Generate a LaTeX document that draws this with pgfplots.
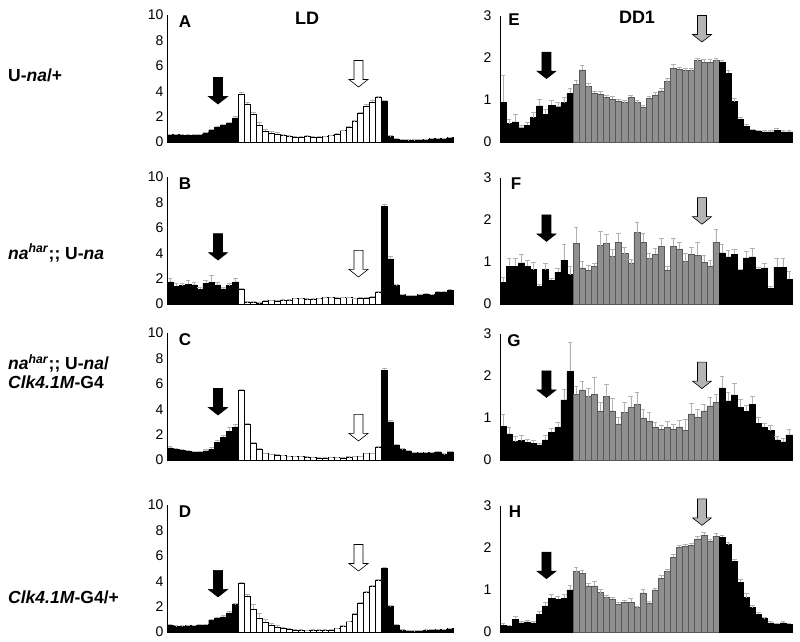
\documentclass[border=0pt]{standalone}
\usepackage{fontspec}
\setmainfont{Liberation Sans}
\usepackage{pgfplots}
\usepackage{pgfplotstable}
\pgfplotsset{compat=1.18}

% LD panels A-D: value and s.e.m. per half-hour bin
\pgfplotstableread{
x  A    eA   B    eB   C    eC   D    eD
1  0.60 0.05 1.75 0.30 0.95 0.15 0.55 0.05
2  0.60 0.05 1.40 0.20 0.85 0.10 0.45 0.05
3  0.55 0.05 1.45 0.20 0.75 0.08 0.45 0.05
4  0.55 0.05 1.55 0.30 0.70 0.08 0.50 0.05
5  0.55 0.05 1.50 0.25 0.60 0.08 0.50 0.05
6  0.60 0.05 1.15 0.20 0.62 0.08 0.55 0.05
7  0.75 0.05 1.65 0.25 0.72 0.10 0.60 0.05
8  0.95 0.08 1.70 0.55 0.85 0.12 0.95 0.08
9  1.20 0.08 1.50 0.20 1.40 0.12 1.10 0.08
10 1.30 0.08 1.20 0.15 1.80 0.15 1.20 0.10
11 1.50 0.08 1.45 0.20 2.25 0.35 1.50 0.10
12 1.90 0.10 1.75 0.25 2.60 0.25 2.15 0.10
13 3.80 0.10 1.20 0.08 5.50 0.10 3.85 0.10
14 3.00 0.12 0.15 0.03 2.80 0.10 2.85 0.15
15 2.20 0.15 0.15 0.03 1.30 0.08 1.80 0.35
16 1.35 0.20 0.08 0.03 0.85 0.08 1.10 0.35
17 0.85 0.15 0.25 0.05 0.50 0.05 0.75 0.25
18 0.72 0.12 0.28 0.05 0.42 0.05 0.53 0.15
19 0.65 0.10 0.25 0.05 0.40 0.05 0.40 0.10
20 0.50 0.08 0.30 0.05 0.35 0.05 0.32 0.08
21 0.45 0.05 0.30 0.05 0.30 0.03 0.24 0.05
22 0.40 0.05 0.42 0.05 0.26 0.03 0.18 0.05
23 0.40 0.05 0.42 0.05 0.26 0.03 0.15 0.03
24 0.45 0.05 0.38 0.05 0.24 0.03 0.13 0.03
25 0.40 0.05 0.38 0.05 0.22 0.03 0.15 0.03
26 0.40 0.05 0.42 0.05 0.18 0.03 0.15 0.03
27 0.42 0.05 0.52 0.05 0.18 0.03 0.15 0.03
28 0.50 0.05 0.52 0.05 0.22 0.03 0.18 0.03
29 0.65 0.05 0.47 0.05 0.20 0.03 0.26 0.03
30 0.90 0.05 0.50 0.05 0.18 0.03 0.45 0.05
31 1.15 0.08 0.52 0.05 0.24 0.03 0.82 0.05
32 1.60 0.08 0.42 0.05 0.30 0.03 1.38 0.08
33 2.25 0.10 0.47 0.05 0.30 0.03 2.25 0.10
34 2.85 0.10 0.47 0.05 0.50 0.05 3.10 0.10
35 3.15 0.10 0.55 0.05 0.52 0.05 3.57 0.10
36 3.50 0.10 0.90 0.08 1.00 0.05 4.05 0.10
37 3.20 0.10 7.70 0.15 7.05 0.20 5.00 0.10
38 0.45 0.05 3.55 0.20 3.00 0.12 2.00 0.10
39 0.25 0.03 1.45 0.10 1.20 0.08 0.55 0.05
40 0.18 0.03 0.75 0.05 0.85 0.05 0.15 0.03
41 0.15 0.03 0.65 0.05 0.70 0.05 0.10 0.03
42 0.15 0.03 0.65 0.05 0.60 0.05 0.08 0.03
43 0.18 0.03 0.75 0.05 0.60 0.05 0.10 0.03
44 0.20 0.03 0.80 0.05 0.60 0.05 0.15 0.03
45 0.28 0.03 0.75 0.05 0.60 0.05 0.18 0.03
46 0.28 0.03 0.95 0.05 0.65 0.05 0.20 0.03
47 0.28 0.03 0.95 0.05 0.45 0.05 0.22 0.03
48 0.35 0.03 1.10 0.08 0.65 0.08 0.28 0.03
}\ldtable

% DD1 panels E-H
\pgfplotstableread{
x  E    eE   F    eF   G    eG   H    eH
1  0.95 0.63 0.52 0.12 0.80 0.30 0.16 0.05
2  0.44 0.10 0.90 0.20 0.62 0.15 0.14 0.03
3  0.48 0.17 0.90 0.18 0.44 0.13 0.30 0.07
4  0.34 0.05 0.98 0.20 0.46 0.12 0.22 0.03
5  0.40 0.07 0.90 0.15 0.42 0.07 0.24 0.04
6  0.58 0.12 0.82 0.17 0.40 0.07 0.22 0.03
7  0.86 0.15 0.42 0.05 0.36 0.05 0.42 0.08
8  0.66 0.12 0.82 0.15 0.48 0.10 0.62 0.10
9  0.87 0.12 0.56 0.05 0.66 0.10 0.80 0.10
10 0.84 0.10 0.75 0.10 0.78 0.12 0.78 0.08
11 0.94 0.12 1.04 0.38 1.43 0.25 0.80 0.10
12 1.16 0.12 0.70 0.20 2.11 0.70 1.00 0.12
13 1.38 0.10 1.45 0.37 1.56 0.20 1.44 0.10
14 1.72 0.10 0.86 0.15 1.67 0.20 1.40 0.06
15 1.32 0.08 0.80 0.12 1.51 0.20 1.10 0.07
16 1.16 0.06 0.90 0.08 1.56 0.40 1.10 0.10
17 1.14 0.06 1.39 0.35 1.17 0.20 0.94 0.07
18 1.06 0.05 1.44 0.23 1.51 0.30 0.82 0.05
19 1.02 0.06 1.13 0.18 1.17 0.30 0.78 0.05
20 0.98 0.05 1.47 0.22 0.86 0.17 0.66 0.05
21 0.94 0.05 1.20 0.15 1.13 0.25 0.71 0.05
22 1.06 0.06 0.96 0.10 1.26 0.25 0.71 0.10
23 0.94 0.06 1.70 0.25 1.32 0.30 0.58 0.03
24 0.83 0.05 1.47 0.22 1.00 0.20 0.93 0.08
25 1.04 0.06 1.08 0.13 0.93 0.20 0.68 0.05
26 1.12 0.06 1.18 0.15 0.79 0.10 1.00 0.05
27 1.22 0.06 1.37 0.20 0.73 0.10 1.28 0.06
28 1.44 0.08 0.81 0.10 0.78 0.15 1.44 0.06
29 1.76 0.10 1.37 0.20 0.73 0.13 1.78 0.08
30 1.73 0.06 1.31 0.17 0.79 0.15 2.02 0.05
31 1.70 0.06 1.01 0.20 0.71 0.25 2.04 0.06
32 1.70 0.06 1.18 0.17 1.10 0.25 2.06 0.05
33 1.94 0.05 1.16 0.30 1.02 0.20 2.22 0.05
34 1.90 0.06 0.99 0.18 1.17 0.15 2.30 0.07
35 1.90 0.06 0.90 0.15 1.29 0.20 2.16 0.06
36 1.94 0.05 1.47 0.30 1.38 0.18 2.28 0.06
37 1.90 0.05 1.22 0.20 1.72 0.28 2.26 0.05
38 1.64 0.07 1.12 0.15 1.41 0.20 2.08 0.06
39 0.96 0.08 1.19 0.12 1.55 0.27 1.68 0.05
40 0.54 0.06 0.81 0.02 1.25 0.20 1.18 0.08
41 0.38 0.04 1.10 0.15 1.16 0.15 0.82 0.10
42 0.28 0.03 1.12 0.20 1.33 0.20 0.58 0.05
43 0.26 0.03 0.83 0.05 0.88 0.15 0.42 0.04
44 0.24 0.03 0.86 0.10 0.78 0.10 0.32 0.04
45 0.24 0.03 0.37 0.05 0.70 0.13 0.22 0.04
46 0.28 0.04 0.88 0.20 0.48 0.08 0.18 0.03
47 0.24 0.04 0.88 0.20 0.43 0.08 0.22 0.03
48 0.24 0.03 0.59 0.20 0.60 0.13 0.18 0.03
}\ddtable

\definecolor{barg}{HTML}{8F8F8F}
\definecolor{arrg}{HTML}{B4B4B4}

\pgfplotsset{
  panel/.style={
    scale only axis, anchor=south west, clip=false,
    xmin=0.5, xmax=48.5, ymin=0,
    axis x line=none, axis y line*=left,
    xtick=\empty, ytick style={draw=none},
    y axis line style={line width=0.9pt},
    tick label style={font=\fontsize{14}{14}\selectfont},
    /pgf/number format/assume math mode=true,
    every axis plot/.append style={ybar, bar width=1, bar shift=0pt, line width=0.4pt,
      error bars/y dir=plus, error bars/y explicit,
      error bars/error bar style={gray!60, line width=0.45pt},
      error bars/error mark options={rotate=90, gray!60, mark size=2.3pt, line width=0.45pt}},
  },
  ld/.style={panel, width=286pt, height=127pt, ymax=10, ytick={0,2,...,10}},
  dd/.style={panel, width=292pt, height=126pt, ymax=3, ytick={0,1,2,3},
    yticklabel style={xshift=-5pt}},
  dark/.style={fill=black, draw=black},
}

% three segments of one panel: dark / light / dark
\newcommand{\panelbars}[3]{%
  \addplot[dark, restrict x to domain=1:12] table[x=x, y=#1, y error=e#1]{#2};
  \addplot[#3, restrict x to domain=13:36] table[x=x, y=#1, y error=e#1]{#2};
  \addplot[dark, restrict x to domain=37:48] table[x=x, y=#1, y error=e#1]{#2};
}
% block arrow pointing down, tip at (x, y) in axis units
\newcommand{\blockarrow}[3]{%
  \draw[black, line width=0.6pt, fill=#3] (axis cs:#1,#2) -- ++(9.5pt,7.5pt) -- ++(-5pt,0pt)
    -- ++(0pt,19pt) -- ++(-9pt,0pt) -- ++(0pt,-19pt) -- ++(-5pt,0pt) -- cycle;}

\begin{document}
\begin{tikzpicture}[x=1pt, y=1pt]
\useasboundingbox (0,0) rectangle (800,642);

% ---- LD column
\begin{axis}[ld, at={(167pt,500pt)}]
  \panelbars{A}{\ldtable}{fill=white, draw=black}
  \blockarrow{9.06}{2.99}{black}
  \blockarrow{32.64}{4.33}{white}
\end{axis}
\begin{axis}[ld, at={(167pt,338pt)}]
  \panelbars{B}{\ldtable}{fill=white, draw=black}
  \blockarrow{9.06}{3.46}{black}
  \blockarrow{32.64}{2.13}{white}
\end{axis}
\begin{axis}[ld, at={(167pt,182pt)}]
  \panelbars{C}{\ldtable}{fill=white, draw=black}
  \blockarrow{9.06}{3.54}{black}
  \blockarrow{32.64}{1.50}{white}
\end{axis}
\begin{axis}[ld, at={(167pt,10pt)}]
  \panelbars{D}{\ldtable}{fill=white, draw=black}
  \blockarrow{9.06}{2.76}{black}
  \blockarrow{32.64}{4.80}{white}
\end{axis}

% ---- DD1 column
\begin{axis}[dd, at={(500pt,500pt)}]
  \panelbars{E}{\ddtable}{fill=barg, draw=black!65}
  \blockarrow{8.14}{1.51}{black}
  \blockarrow{33.7}{2.38}{arrg}
\end{axis}
\begin{axis}[dd, at={(500pt,338pt)}]
  \panelbars{F}{\ddtable}{fill=barg, draw=black!65}
  \blockarrow{8.14}{1.49}{black}
  \blockarrow{33.7}{1.90}{arrg}
\end{axis}
\begin{axis}[dd, at={(500pt,182pt)}]
  \panelbars{G}{\ddtable}{fill=barg, draw=black!65}
  \blockarrow{8.14}{1.49}{black}
  \blockarrow{33.7}{1.70}{arrg}
\end{axis}
\begin{axis}[dd, at={(500pt,10pt)}]
  \panelbars{H}{\ddtable}{fill=barg, draw=black!65}
  \blockarrow{8.14}{1.27}{black}
  \blockarrow{33.7}{2.54}{arrg}
\end{axis}

% ---- titles, panel letters, genotype labels
\begin{scope}[every node/.style={font=\bfseries\fontsize{18}{18}\selectfont, inner sep=0pt}]
  \node at (307,624) {LD};
  \node at (637,625) {DD1};
\end{scope}
\begin{scope}[every node/.style={font=\bfseries\fontsize{17}{17}\selectfont, inner sep=0pt}]
  \node at (185,620) {A};
  \node at (185,458) {B};
  \node at (185,302) {C};
  \node at (185,130) {D};
  \node at (514,622) {E};
  \node at (516,458) {F};
  \node at (514,301) {G};
  \node at (515,130) {H};
\end{scope}
\begin{scope}[every node/.style={font=\bfseries\fontsize{17.5}{19}\selectfont, inner sep=0pt, anchor=west, align=left}]
  \node at (8,567) {U-\textit{na}/+};
  \node at (8,389) {\textit{na}\textsuperscript{\textit{har}};; U-\textit{na}};
  \node at (8,270.5) {\textit{na}\textsuperscript{\textit{har}};; U-\textit{na}/\\\textit{Clk4.1M}-G4};
  \node at (8,45) {\textit{Clk4.1M}-G4/+};
\end{scope}
\end{tikzpicture}
\end{document}
